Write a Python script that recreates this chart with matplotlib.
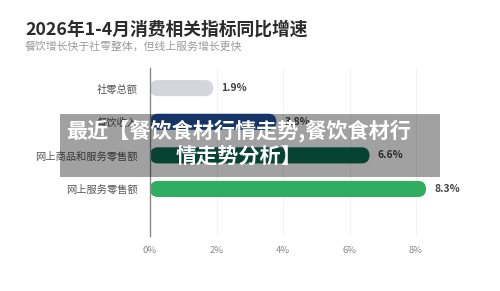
import matplotlib.pyplot as plt
from matplotlib.patches import FancyBboxPatch, Rectangle

plt.rcParams['font.family'] = ['Noto Sans CJK SC', 'DejaVu Sans']

# data
categories = ['社零总额', '餐饮收入', '网上商品和服务零售额', '网上服务零售额']
growth = [1.9, 3.8, 6.6, 8.3]
bar_colors = ['#d3d6dd', '#2553a6', '#0c6b4f', '#2fae62']
xticks = [0, 2, 4, 6, 8]
tick_labels = ['0%', '2%', '4%', '6%', '8%']
title = '2026年1-4月消费相关指标同比增速'
subtitle = '餐饮增长快于社零整体，但线上服务增长更快'
overlay_lines = ['最近【餐饮食材行情走势,餐饮食材行', '情走势分析】']

W, H = 500, 291
fig = plt.figure(figsize=(W / 100, H / 100), dpi=100)
fig.patch.set_facecolor('white')

ax = fig.add_axes([150 / W, 1 - 236 / H, (436 - 150) / W, (236 - 68) / H])
ax.set_xlim(0, 8.6)
ax.set_ylim(4.4, -0.6)

bar_h = 0.48
for i, (v, c) in enumerate(zip(growth, bar_colors)):
    box = FancyBboxPatch((0, i - bar_h / 2), v, bar_h,
                         boxstyle='round,pad=0,rounding_size=%f' % (bar_h / 2),
                         mutation_aspect=1.0, facecolor=c, edgecolor='none', zorder=3)
    ax.add_patch(box)
    ax.text(v + 0.25, i, f'{v}%', va='center', ha='left', fontsize=7.5,
            fontweight='bold', color='#444444', zorder=4)

ax.set_yticks(range(len(categories)))
ax.set_yticklabels(categories, fontsize=7.4, color='#555555')
ax.set_xticks(xticks)
ax.set_xticklabels(tick_labels, fontsize=6.8, color='#888888')
ax.tick_params(axis='both', length=0)
ax.tick_params(axis='y', pad=9)
ax.tick_params(axis='x', pad=7)
ax.grid(axis='x', color='#f2f2f2', linewidth=0.8, zorder=0)
for s in ['top', 'right', 'bottom']:
    ax.spines[s].set_visible(False)
ax.spines['left'].set_color('#8a8a8a')
ax.spines['left'].set_linewidth(1.0)
ax.spines['left'].set_zorder(5)

fig.text(25 / W, 1 - 30 / H, title, fontsize=12.8, fontweight='bold',
         color='#2b2b2b', ha='left', va='center')
fig.text(25 / W, 1 - 47 / H, subtitle, fontsize=7.8, color='#9a9a9a',
         ha='left', va='center')

# overlay banner
fig.patches.append(Rectangle((60 / W, 1 - 177 / H), (440 - 60) / W, (177 - 114) / H,
                             transform=fig.transFigure, facecolor='black',
                             alpha=0.37, edgecolor='none', zorder=10))
fig.text(239 / W, 1 - 131 / H, overlay_lines[0], fontsize=15.2, fontweight='bold',
         color='white', ha='center', va='center', zorder=11)
fig.text(239 / W, 1 - 157 / H, overlay_lines[1], fontsize=15.2, fontweight='bold',
         color='white', ha='center', va='center', zorder=11)

fig.savefig('out.png', dpi=100)
